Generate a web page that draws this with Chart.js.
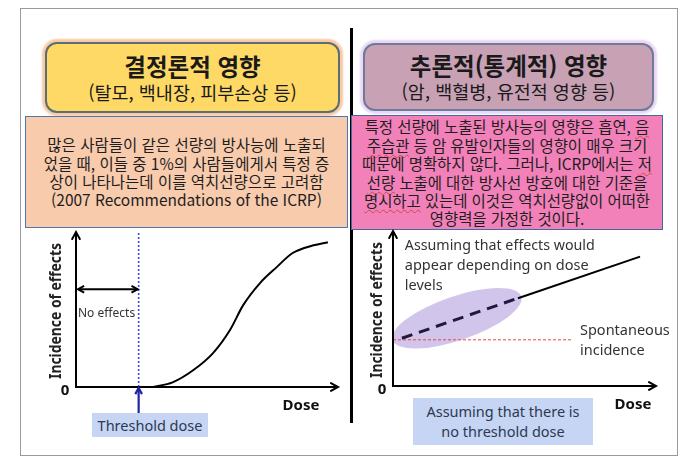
<!DOCTYPE html>
<html lang="ko">
<head>
<meta charset="utf-8">
<script src="https://cdn.jsdelivr.net/npm/chart.js@4.4.0/dist/chart.umd.min.js"></script>
<style>
  body { margin: 0; width: 691px; height: 466px; background: #fff; position: relative; overflow: hidden; }
  .abs { position: absolute; box-sizing: border-box; }
  .frame { left: 20px; top: 8px; width: 658px; height: 448px; border: 1.5px solid #9a9a9a; }
  .divider { left: 350px; top: 28px; width: 2.5px; height: 395px; background: #000; }
  .head { border-radius: 12px; text-align: center; font-family: "Noto Sans CJK KR", sans-serif; color: #1a1a1a; }
  .head .t { font-size: 23.5px; font-weight: bold; line-height: 27px; margin-top: 9px; }
  .head .s { font-size: 18.5px; line-height: 24px; }
  .yellow { left: 45px; top: 42px; width: 295px; height: 71px; background: #FFD966; border: 2px solid #5a6e74; box-shadow: 0 0 2px 3px #F7C9A4; }
  .purple { left: 363px; top: 43px; width: 291px; height: 68px; background: #C8A1B4; border: 2px solid #6c7b9c; box-shadow: 0 0 2px 3px #EBD6F2; }
  .note { font-family: "Noto Sans CJK KR", sans-serif; color: #1e1e1e; text-align: center; white-space: nowrap;
          display: flex; align-items: center; justify-content: center; }
  .orange { left: 25px; top: 116px; width: 323px; height: 112px; background: #F8CBAD; border: 1.5px solid #4a78b4; font-size: 15.5px; line-height: 18.4px; }
  .pink { left: 351px; top: 115px; width: 312px; height: 115px; background: #F381B9; border: 1.5px solid #3d6aa6; font-size: 15.5px; line-height: 18.4px; letter-spacing: -0.1px; }
  .sq { text-decoration: underline wavy #d04848 1px; text-underline-offset: 2px; }
  .tag { background: #C6D5F3; font-family: "Noto Sans", sans-serif; color: #2d3852; text-align: center; }
  .tag1 { left: 92px; top: 413px; width: 116px; height: 24px; font-size: 14.5px; line-height: 24px; }
  .tag2 { left: 413px; top: 398px; width: 180px; height: 47px; font-size: 14.5px; line-height: 20px; padding-top: 3px; }
  canvas { position: absolute; }
</style>
</head>
<body>
<div class="abs frame"></div>
<div class="abs divider"></div>

<div class="abs head yellow"><div class="t">결정론적 영향</div><div class="s">(탈모, 백내장, 피부손상 등)</div></div>
<div class="abs head purple"><div class="t" style="margin-top:7px">추론적(통계적) 영향</div><div class="s">(암, 백혈병, 유전적 영향 등)</div></div>

<div class="abs note orange"><div>많은 사람들이 같은 선량의 방사능에 노출되<br>었을 때, 이들 중 1%의 사람들에게서 특정 증<br>상이 나타나는데 이를 역치선량으로 고려함<br>(2007 Recommendations of the ICRP)</div></div>
<div class="abs note pink"><div>특정 선량에 노출된 방사능의 영향은 흡연, <span class="sq">음</span><br><span class="sq">주습관</span> 등 암 유발인자들의 영향이 매우 크기<br>때문에 명확하지 않다. 그러나, ICRP에서는 <span class="sq">저</span><br><span class="sq">선량</span> 노출에 대한 방사선 방호에 대한 기준을<br><span class="sq">명시하고</span> 있는데 이것은 역치선량없이 어떠한<br>영향력을 가정한 것이다.</div></div>

<div class="abs tag tag1">Threshold dose</div>
<div class="abs tag tag2">Assuming that there is<br>no threshold dose</div>

<canvas id="leftChart" width="330" height="226" style="left:20px; top:228px"></canvas>
<canvas id="rightChart" width="326" height="226" style="left:352px; top:228px"></canvas>

<script>
// left panel: deterministic effect (sigmoid above a threshold)
const sigmoidDose = [2.95, 3.7, 4.5, 5.25, 5.9, 6.4, 7.05, 7.7, 8.3, 9.1, 9.65];
const sigmoidIncidence = [0, 0.3, 1.1, 2.2, 3.7, 5.3, 6.75, 7.8, 8.7, 9.2, 9.4];
const thresholdDose = 2.4;
const noEffectsLevel = 6.35;

// right panel: stochastic effect (linear, no threshold)
const lntDashedDose = [0.34, 4.77];
const lntDashedIncidence = [3.1, 5.7];
const lntSolidDose = [4.77, 9.43];
const lntSolidIncidence = [5.7, 8.4];
const spontaneousDose = [0, 6.87];
const spontaneousLevel = 3.0;
const ellipseCenter = [2.44, 4.4];

const axisLabels = { y: 'Incidence of effects', x: 'Dose', origin: '0' };

function pts(xs, ys) {
    return xs.map((x, i) => ({ x: x, y: Array.isArray(ys) ? ys[i] : ys }));
}

function arrowHead(ctx, x, y, angle, len) {
    ctx.beginPath();
    ctx.moveTo(x - len * Math.cos(angle - 0.5), y - len * Math.sin(angle - 0.5));
    ctx.lineTo(x, y);
    ctx.lineTo(x - len * Math.cos(angle + 0.5), y - len * Math.sin(angle + 0.5));
    ctx.stroke();
}

// axes with arrows and the axis texts
function drawAxes(chart, o) {
    const ctx = chart.ctx;
    const a = chart.chartArea;
    ctx.save();
    ctx.strokeStyle = '#000';
    ctx.lineWidth = 2;
    ctx.lineCap = 'round';
    ctx.beginPath();
    ctx.moveTo(a.left, a.top);
    ctx.lineTo(a.left, a.bottom);
    ctx.lineTo(a.right, a.bottom);
    ctx.stroke();
    arrowHead(ctx, a.left, a.top - 1, -Math.PI / 2, 8);
    arrowHead(ctx, a.right + 1, a.bottom, 0, 8);

    ctx.fillStyle = '#111';
    ctx.textAlign = 'center';
    ctx.textBaseline = 'middle';
    ctx.font = 'bold 15px "Noto Sans", sans-serif';
    ctx.fillText(axisLabels.origin, a.left - 11, a.bottom + 4);
    ctx.fillText(axisLabels.x, a.right - o.doseOffset, a.bottom + 19);

    ctx.save();
    ctx.translate(a.left - o.yLabelOffset, (a.top + a.bottom) / 2 + 1);
    ctx.rotate(-Math.PI / 2);
    ctx.font = 'bold 16px "Noto Sans", sans-serif';
    ctx.fillStyle = '#222';
    ctx.fillText(axisLabels.y, 0, 0, 136);
    ctx.restore();
    ctx.restore();
}

const leftDecor = {
    id: 'leftDecor',
    afterDatasetsDraw(chart) {
        const ctx = chart.ctx;
        const xs = chart.scales.x, ys = chart.scales.y;
        const a = chart.chartArea;
        drawAxes(chart, { doseOffset: 36, yLabelOffset: 20 });

        // "No effects" double arrow
        const y = ys.getPixelForValue(noEffectsLevel);
        const x0 = xs.getPixelForValue(0) + 2, x1 = xs.getPixelForValue(thresholdDose) - 1;
        ctx.save();
        ctx.strokeStyle = '#000';
        ctx.lineWidth = 2;
        ctx.beginPath();
        ctx.moveTo(x0, y);
        ctx.lineTo(x1, y);
        ctx.stroke();
        arrowHead(ctx, x0, y, Math.PI, 7);
        arrowHead(ctx, x1, y, 0, 7);
        ctx.fillStyle = '#333';
        ctx.font = '12px "Noto Sans", sans-serif';
        ctx.textAlign = 'left';
        ctx.textBaseline = 'middle';
        ctx.fillText('No effects', x0, y + 24, 60);

        // blue arrow from the threshold tag up to the axis
        const tx = xs.getPixelForValue(thresholdDose);
        ctx.strokeStyle = '#2323a8';
        ctx.lineWidth = 2.2;
        ctx.beginPath();
        ctx.moveTo(tx, a.bottom + 26);
        ctx.lineTo(tx, a.bottom + 1);
        ctx.stroke();
        arrowHead(ctx, tx, a.bottom + 1, -Math.PI / 2, 7);
        ctx.restore();
    }
};

const rightDecor = {
    id: 'rightDecor',
    beforeDatasetsDraw(chart) {
        const ctx = chart.ctx;
        const xs = chart.scales.x, ys = chart.scales.y;
        const cx = xs.getPixelForValue(ellipseCenter[0]);
        const cy = ys.getPixelForValue(ellipseCenter[1]);
        ctx.save();
        ctx.fillStyle = 'rgba(180, 162, 224, 0.62)';
        ctx.beginPath();
        ctx.ellipse(cx, cy, 68, 22, -0.33, 0, Math.PI * 2);
        ctx.fill();
        ctx.restore();
    },
    afterDatasetsDraw(chart) {
        const ctx = chart.ctx;
        const xs = chart.scales.x, ys = chart.scales.y;
        drawAxes(chart, { doseOffset: 22, yLabelOffset: 16 });
        ctx.save();
        ctx.fillStyle = '#333';
        ctx.font = '14.5px "Noto Sans", sans-serif';
        ctx.textAlign = 'left';
        ctx.textBaseline = 'middle';
        const lx = xs.getPixelForValue(0.45);
        const ly = ys.getPixelForValue(9.1);
        ['Assuming that effects would', 'appear depending on dose', 'levels'].forEach((t, i) => {
            ctx.fillText(t, lx, ly + i * 20, 190);
        });
        const sx = xs.getPixelForValue(spontaneousDose[1]) + 7;
        const sy = ys.getPixelForValue(spontaneousLevel);
        ctx.fillText('Spontaneous', sx, sy - 9, 90);
        ctx.fillText('incidence', sx, sy + 11, 66);
        ctx.restore();
    }
};

const baseOptions = (padding) => ({
    responsive: false,
    animation: false,
    layout: { padding: padding },
    elements: { point: { radius: 0 }, line: { borderCapStyle: 'butt' } },
    plugins: { legend: { display: false }, tooltip: { enabled: false } },
    scales: {
        x: { type: 'linear', min: 0, max: 10, display: false },
        y: { type: 'linear', min: 0, max: 10, display: false }
    }
});

new Chart(document.getElementById('leftChart'), {
    type: 'line',
    data: {
        datasets: [
            {
                data: pts([thresholdDose, thresholdDose], [0, 10]),
                borderColor: '#3b4be0',
                borderWidth: 1.6,
                borderDash: [2, 2],
                clip: false
            },
            {
                data: pts(sigmoidDose, sigmoidIncidence),
                borderColor: '#000',
                borderWidth: 2,
                cubicInterpolationMode: 'monotone',
                clip: false
            }
        ]
    },
    options: baseOptions({ left: 56, right: 13, top: 5, bottom: 67 }),
    plugins: [leftDecor]
});

new Chart(document.getElementById('rightChart'), {
    type: 'line',
    data: {
        datasets: [
            {
                data: pts(spontaneousDose, spontaneousLevel),
                borderColor: '#e24a4a',
                borderWidth: 1,
                borderDash: [3, 2],
                clip: false
            },
            {
                data: pts(lntDashedDose, lntDashedIncidence),
                borderColor: '#1d1a3e',
                borderWidth: 3,
                borderDash: [11, 7],
                clip: false
            },
            {
                data: pts(lntSolidDose, lntSolidIncidence),
                borderColor: '#000',
                borderWidth: 2,
                clip: false
            }
        ]
    },
    options: baseOptions({ left: 41, right: 23, top: 4, bottom: 68 }),
    plugins: [rightDecor]
});
</script>
</body>
</html>
